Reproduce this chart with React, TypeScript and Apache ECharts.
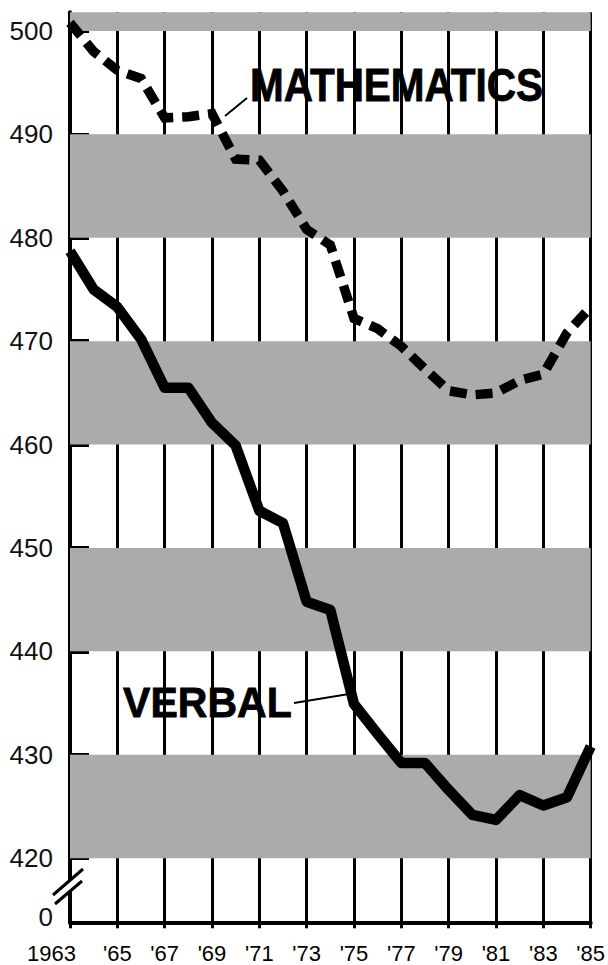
import React, { useEffect, useRef } from "react";
import * as echarts from "echarts";

const years = [
  "1963", "1964", "1965", "1966", "1967", "1968", "1969", "1970", "1971", "1972", "1973", "1974",
  "1975", "1976", "1977", "1978", "1979", "1980", "1981", "1982", "1983", "1984", "1985",
];

const mathematics = [
  500.8, 498.0, 496.2, 495.4, 491.6, 491.7, 492.0, 487.6, 487.5, 484.5, 480.8, 479.3,
  472.2, 471.2, 469.5, 467.3, 465.2, 464.8, 465.0, 466.2, 466.8, 470.8, 473.3,
];

const verbal = [
  478.7, 475.0, 473.3, 470.2, 465.5, 465.5, 462.1, 459.9, 453.6, 452.4, 444.8, 444.0,
  434.9, 432.0, 429.2, 429.2, 426.6, 424.2, 423.7, 426.1, 425.1, 425.9, 430.8,
];

const yTickValues = [420, 430, 440, 450, 460, 470, 480, 490, 500];
const grayBands = [
  [420, 430],
  [440, 450],
  [460, 470],
  [480, 490],
  [500, 510],
];

const Y_MIN = 413.8; // where the broken axis reaches its "0"
const Y_MAX = 501.8;

const FONT = "'Liberation Sans', Arial, Helvetica, sans-serif";
const X_FONT_SIZE = 22;

export default function App() {
  const ref = useRef<HTMLDivElement>(null);

  useEffect(() => {
    if (!ref.current) return;
    const chart = echarts.init(ref.current, undefined, { renderer: "svg" });

    const option: any = {
      animation: false,
      backgroundColor: "#ffffff",
      grid: { left: 70, right: 14.5, top: 12.3, bottom: 42.7, containLabel: false },
      xAxis: {
        type: "category",
        data: years,
        boundaryGap: false,
        axisLine: { show: true, lineStyle: { color: "#000", width: 4 } },
        axisTick: { show: true, interval: 1, length: 6, lineStyle: { color: "#000", width: 3 } },
        axisLabel: {
          interval: 1,
          margin: 20,
          fontSize: X_FONT_SIZE,
          fontFamily: FONT,
          color: "#000",
          formatter: (v: string) => (v === years[0] ? "" : "'" + v.slice(2)),
        },
        splitLine: { show: true, interval: 1, lineStyle: { color: "#000", width: 3 } },
      },
      yAxis: {
        type: "value",
        min: Y_MIN,
        max: Y_MAX,
        axisLine: { show: true, lineStyle: { color: "#000", width: 4 } },
        axisTick: {
          show: true,
          inside: true,
          length: 19,
          customValues: yTickValues,
          lineStyle: { color: "#000", width: 4 },
        },
        axisLabel: {
          margin: 17,
          fontSize: 26,
          fontFamily: FONT,
          color: "#111",
          customValues: [Y_MIN, ...yTickValues],
          formatter: (v: number) => (Math.abs(v - Y_MIN) < 0.01 ? "{z|0}" : String(v)),
          rich: { z: { fontSize: 26, fontFamily: FONT, color: "#111", padding: [0, 0, 10, 0] } },
        },
        splitLine: { show: false },
      },
      series: [
        {
          name: "bands",
          type: "line",
          z: -1,
          silent: true,
          data: years.map(() => null),
          showSymbol: false,
          lineStyle: { opacity: 0 },
          markArea: {
            silent: true,
            itemStyle: { color: "#ababab" },
            data: grayBands.map(([a, b]) => [{ yAxis: a }, { yAxis: Math.min(b, Y_MAX) }]),
          },
        },
        {
          name: "MATHEMATICS",
          type: "line",
          data: mathematics,
          showSymbol: false,
          symbol: "none",
          z: 3,
          lineStyle: { color: "#000", width: 9.5, type: [17, 9], cap: "butt", join: "miter" },
        },
        {
          name: "VERBAL",
          type: "line",
          data: verbal,
          showSymbol: false,
          symbol: "none",
          z: 3,
          lineStyle: { color: "#000", width: 10.5, cap: "butt", join: "round" },
        },
      ],
      graphic: [
        {
          type: "text",
          x: 250,
          y: 85,
          scaleX: 0.88,
          z: 10,
          style: {
            text: "MATHEMATICS",
            x: 0,
            y: 0,
            align: "left",
            verticalAlign: "middle",
            fontSize: 46,
            fontWeight: "bold",
            fontFamily: FONT,
            fill: "#000",
            stroke: "#000",
            lineWidth: 0.8,
          },
        },
        {
          type: "line",
          z: 10,
          shape: { x1: 225, y1: 116, x2: 247, y2: 98 },
          style: { stroke: "#000", lineWidth: 2 },
        },
        {
          type: "text",
          x: 123,
          y: 702.5,
          scaleX: 0.955,
          z: 10,
          style: {
            text: "VERBAL",
            x: 0,
            y: 0,
            align: "left",
            verticalAlign: "middle",
            fontSize: 43,
            fontWeight: "bold",
            fontFamily: FONT,
            fill: "#000",
            stroke: "#000",
            lineWidth: 0.8,
          },
        },
        {
          type: "line",
          z: 10,
          shape: { x1: 294, y1: 703, x2: 349, y2: 694 },
          style: { stroke: "#000", lineWidth: 2 },
        },
        // axis break marks
        {
          type: "polygon",
          z: 10,
          shape: { points: [[65, 885], [75, 876], [75, 889], [65, 896]] },
          style: { fill: "#fff" },
        },
        {
          type: "line",
          z: 11,
          shape: { x1: 53, y1: 895, x2: 83, y2: 869 },
          style: { stroke: "#000", lineWidth: 3 },
        },
        {
          type: "line",
          z: 11,
          shape: { x1: 55, y1: 904, x2: 82, y2: 881 },
          style: { stroke: "#000", lineWidth: 3 },
        },
      ],
    };

    chart.setOption(option);

    // First year label, written in full and set a little to the left of its tick
    const px = chart.convertToPixel({ xAxisIndex: 0 }, years[0]) as number;
    const py = chart.convertToPixel({ yAxisIndex: 0 }, Y_MIN) as number;
    chart.setOption({
      graphic: [
        {
          type: "text",
          id: "firstYear",
          x: px + 6,
          y: py + 20 + X_FONT_SIZE / 2,
          z: 10,
          style: {
            text: years[0],
            align: "right",
            verticalAlign: "middle",
            fontSize: X_FONT_SIZE,
            fontFamily: FONT,
            fill: "#000",
          },
        },
      ],
    });

    return () => chart.dispose();
  }, []);

  return (
    <div
      ref={ref}
      style={{ position: "absolute", left: 0, top: 0, width: 608, height: 965, background: "#fff" }}
    />
  );
}
